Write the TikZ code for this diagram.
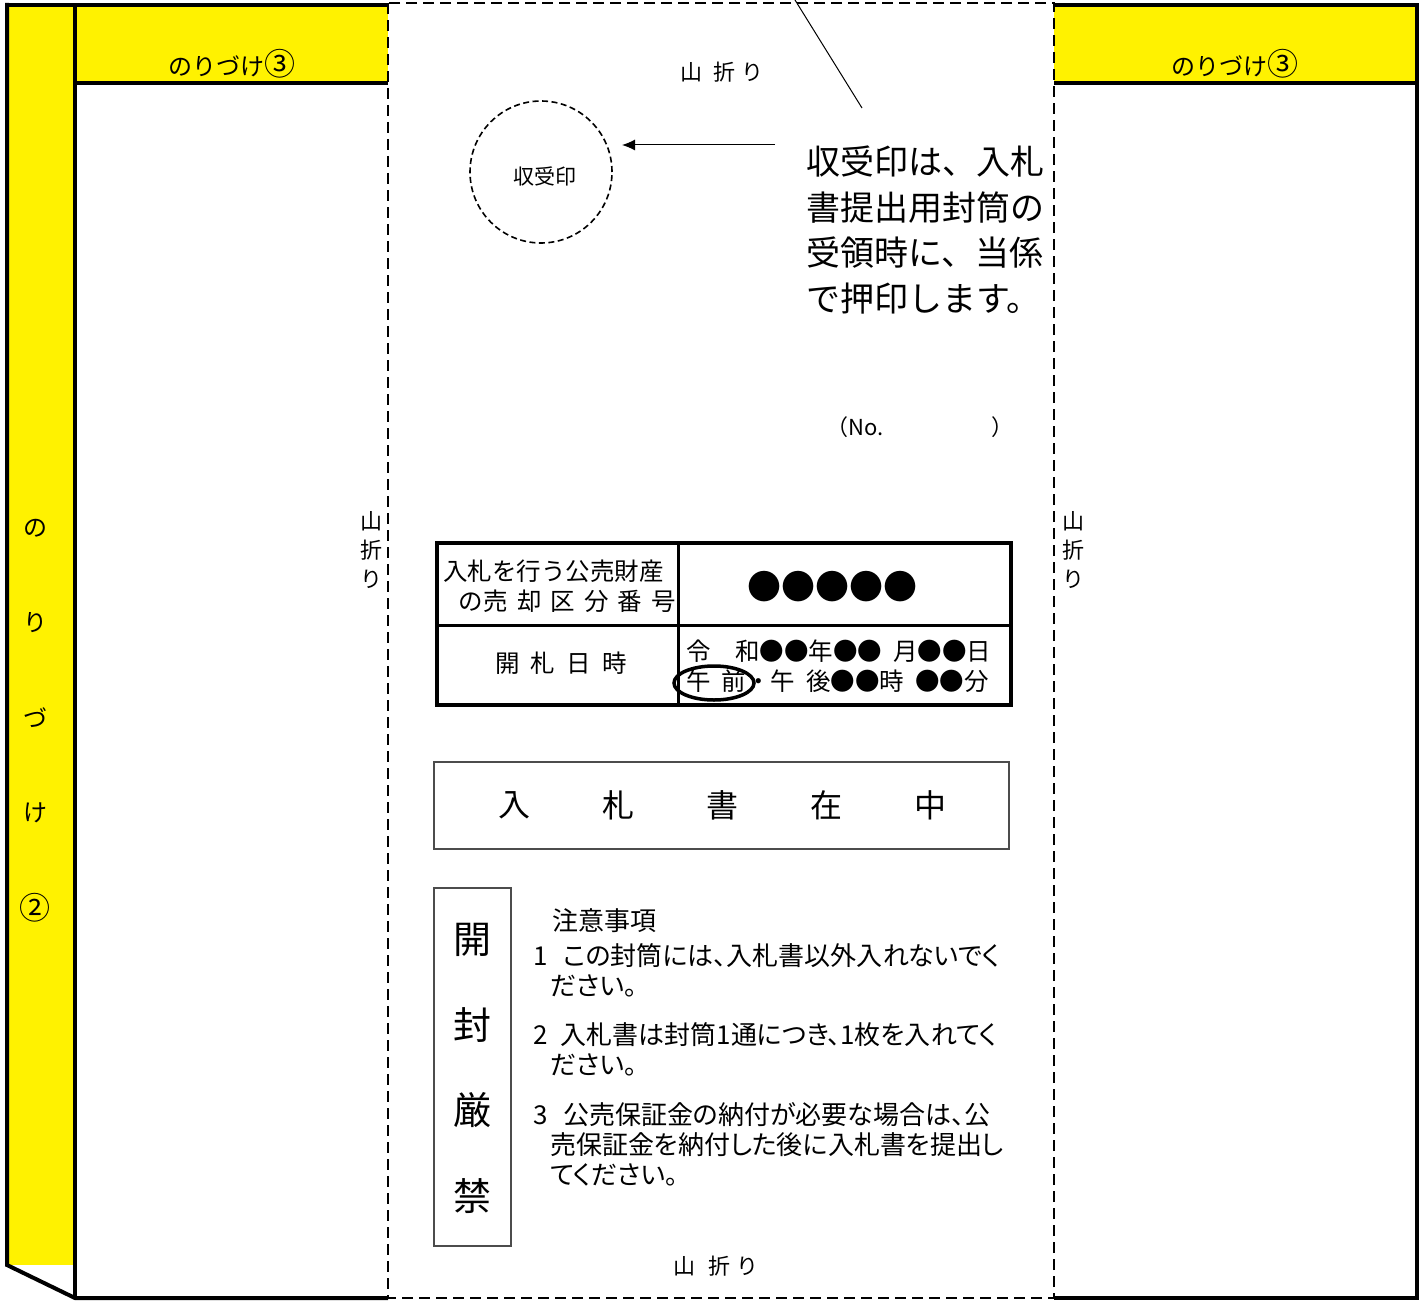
\documentclass[tikz,border=0pt]{standalone}
\usepackage{fontspec}
\usepackage{tikz}
\usetikzlibrary{arrows.meta}
\setmainfont{Noto Sans CJK JP}
\newfontfamily\pjp{Noto Sans CJK JP}[RawFeature=+palt]

\begin{document}
\begin{tikzpicture}[x=1pt,y=-1pt,
  edgeline/.style={line width=4pt},
  foldline/.style={line width=2.8pt, dash pattern=on 11pt off 6pt},
  glue/.style={font=\fontsize{24}{28}\selectfont},
  foldtext/.style={font=\fontsize{22}{29}\selectfont},
  cell/.style={font=\fontsize{24.5}{28}\selectfont, inner sep=0pt},
  notetext/.style={font=\pjp\fontsize{26}{28}\selectfont, anchor=west, inner sep=0pt}]
% Sizes
\def\strip{75}
\def\foldL{388}
\def\foldR{1054}
\def\edge{1417}
\def\flap{83}
\def\bottom{1298}

\useasboundingbox (0,0) rectangle (1420,1300);

% Yellow flaps
\fill[yellow] (7,5) rectangle (\strip,1265);
\fill[yellow] (\strip,5) rectangle (\foldL,\flap);
\fill[yellow] (\foldR,5) rectangle (\edge,\flap);

% Outer edges
\draw[edgeline] (7,5) -- (\foldL,5);
\draw[edgeline] (7,3) -- (7,1265) -- (\strip,\bottom) -- (\foldL,\bottom);
\draw[edgeline] (\strip,5) -- (\strip,\bottom);
\draw[edgeline] (\strip,\flap) -- (\foldL,\flap);
\draw[edgeline] (\foldR,5) -- (\edge,5) -- (\edge,\bottom) -- (\foldR,\bottom);
\draw[edgeline] (\foldR,\flap) -- (\edge,\flap);

% Fold lines
\draw[foldline] (\foldL,3) rectangle (\foldR,\bottom);

% Glue labels
\node[glue] (glueL) at (232,64) {のりづけ{\fontsize{31}{31}\selectfont ③}};
\node[glue] (glueR) at (1235,64) {のりづけ{\fontsize{31}{31}\selectfont ③}};
\foreach \c [count=\i] in {の,り,づ,け,{\fontsize{31}{31}\selectfont ②}}
  \node[glue] (glue\i) at (35,{433+95*\i}) {\c};

% Fold labels
\node[foldtext] (foldtop) at (722,72) {山\hspace{.5em}折\hspace{.3em}り};
\node[foldtext] (foldbottom) at (716,1266) {山\hspace{.6em}折\hspace{.3em}り};
\node[foldtext, align=center] (foldleft) at (371,550) {山\\折\\り};
\node[foldtext, align=center] (foldright) at (1073,550) {山\\折\\り};

% Stamp
\node[draw, circle, line width=1.6pt, dash pattern=on 6pt off 3.5pt,
  minimum size=142pt] (stamp) at (541,172) {};
\node[font=\fontsize{21}{24}\selectfont] (stamptext) at (545,176) {収受印};
\coordinate (pointer) at (775,145);
\coordinate (pointed) at (622,145);
\draw[-{Latex[length=13pt,width=11pt]}, line width=1pt] (pointer) -- (pointed);
\coordinate (leadtop) at (795,0);
\coordinate (leadend) at (862,108);
\draw[line width=1pt] (leadtop) -- (leadend);
\node[anchor=north west, inner sep=0pt, align=left,
  font=\fontsize{34}{45.5}\selectfont] (stampnote) at (806,146)
  {収受印は、入札\\書提出用封筒の\\受領時に、当係\\で押印します。};

% Number
\node[font=\fontsize{22}{26}\selectfont, anchor=west] (serial) at (823,427) {（No.\hspace{4.9em}）};

% Table
\draw[line width=4pt] (437,543) rectangle (1011,705);
\draw[line width=3pt] (678,543) -- (678,705);
\draw[line width=3pt] (437,625) -- (1011,625);
\node[cell, anchor=west] (lotA) at (443,571) {入札を行う公売財産};
\node[cell, anchor=east] (lotB) at (676,601) {の売\hspace{.37em}却\hspace{.37em}区\hspace{.37em}分\hspace{.37em}番\hspace{.37em}号};
\node[font=\fontsize{34}{38}\selectfont, inner sep=0pt] (lotno) at (832,587) {●●●●●};
\node[cell] (opening) at (561,663) {開\hspace{.45em}札\hspace{.45em}日\hspace{.45em}時};
\node[cell, anchor=west] (dateA) at (686,651) {令\hspace{1em}和●●年●●\hspace{.45em}月●●日};
\node[cell, anchor=west] (dateB) at (686,681) {午\hspace{.45em}前・午\hspace{.45em}後●●時\hspace{.45em}●●分};
\draw[line width=3.5pt] (714,683) ellipse [x radius=40, y radius=17];

% Enclosed
\draw[line width=2pt, black!70] (434,762) rectangle (1009,849);
\foreach \c [count=\i] in {入,札,書,在,中}
  \node[font=\fontsize{32}{36}\selectfont] (enc\i) at ({410+104*\i},805) {\c};

% Do not open
\draw[line width=2pt, black!70] (434,888) rectangle (511,1246);
\foreach \c [count=\i] in {開,封,厳,禁}
  \node[font=\fontsize{38}{40}\selectfont] (seal\i) at (472,{854+85.5*\i}) {\c};

% Notes
\foreach \x/\y/\t [count=\i] in {
  552/921/注意事項,
  533/956/{1\hspace{.6em}この封筒には、入札書以外入れないでく},
  550/986/ださい。,
  533/1035/{2\hspace{.5em}入札書は封筒1通につき、1枚を入れてく},
  550/1065/ださい。,
  533/1115/{3\hspace{.6em}公売保証金の納付が必要な場合は、公},
  550/1145/売保証金を納付した後に入札書を提出し,
  550/1175/てください。}
  \node[notetext] (note\i) at (\x,\y) {\t};

\end{tikzpicture}
\end{document}
